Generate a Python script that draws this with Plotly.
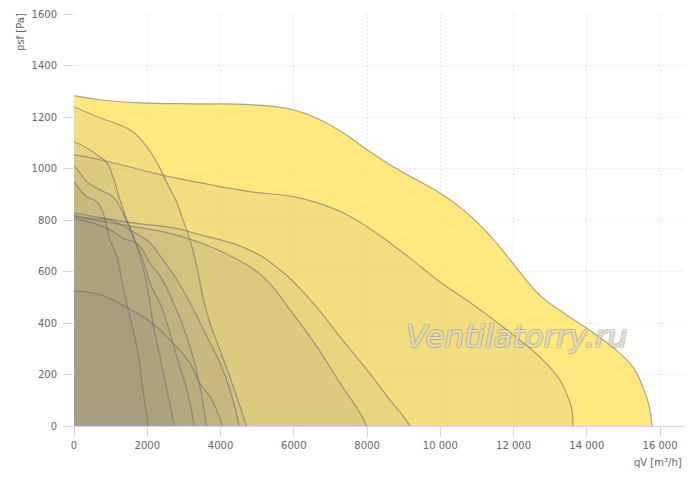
import plotly.graph_objects as go

# Fan curves: flow qV [m3/h] and static pressure psf [Pa]
q1 = [0, 710, 1802, 3440, 4805, 5979, 6716, 7344, 7999, 8627, 9364, 9992, 10538, 11084, 11630, 12176, 12722, 13350, 14087, 14715, 15261, 15534, 15698, 15780]
p1 = [1283, 1267, 1255, 1251, 1248, 1228, 1189, 1139, 1073, 1015, 955, 905, 850, 780, 694, 597, 507, 441, 371, 305, 228, 150, 80, 0]

q2 = [0, 710, 1611, 2348, 3440, 4805, 5980, 6634, 7344, 8000, 8627, 9173, 9992, 10756, 11357, 12176, 12722, 13268, 13486, 13595, 13623]
p2 = [1054, 1034, 1003, 976, 945, 910, 891, 867, 828, 774, 711, 652, 559, 485, 423, 333, 267, 178, 112, 62, 0]

q3 = [0, 1611, 2703, 3440, 4723, 5624, 6525, 7262, 8000, 8627, 8950, 9180]
p3 = [828, 789, 770, 743, 688, 607, 478, 346, 218, 101, 45, 0]

q4 = [0, 1611, 2539, 3440, 4259, 5160, 5897, 6634, 7262, 7808, 7990]
p4 = [813, 774, 751, 712, 661, 579, 451, 307, 167, 51, 0]

q5 = [0, 710, 1256, 1611, 1993, 2266, 2539, 2812, 2976, 3167, 3358, 3522, 3713, 3986, 4259, 4500, 4709]
p5 = [1240, 1197, 1169, 1142, 1084, 1022, 944, 866, 800, 722, 617, 500, 399, 294, 189, 90, 0]

q6 = [0, 355, 710, 901, 1065, 1256, 1447, 1611, 1747, 1884, 2020, 2157, 2348, 2539, 2736]
p6 = [1104, 1080, 1045, 1022, 967, 878, 800, 742, 683, 617, 528, 400, 267, 139, 0]

q7 = [0, 164, 355, 710, 1065, 1256, 1447, 1611, 1802, 1993, 2157, 2348, 2539, 2703, 2894, 3085, 3282]
p7 = [1010, 983, 948, 917, 890, 851, 793, 734, 676, 594, 528, 477, 399, 322, 228, 139, 0]

q8 = [0, 164, 355, 628, 792, 901, 983, 1174, 1338, 1529, 1720, 1884, 2027]
p8 = [948, 917, 890, 870, 828, 773, 722, 656, 540, 423, 306, 139, 0]

q9 = [0, 491, 983, 1529, 2075, 2430, 2812, 3167, 3440, 3713, 3986, 4259, 4509]
p9 = [818, 805, 800, 761, 711, 645, 567, 478, 401, 323, 245, 140, 0]

q10 = [0, 901, 1338, 1747, 2075, 2348, 2757, 2976, 3222, 3440, 3618]
p10 = [805, 768, 729, 706, 632, 582, 465, 387, 282, 154, 0]

q11 = [0, 710, 1474, 1938, 2266, 2812, 3167, 3440, 3767, 4054]
p11 = [524, 510, 458, 419, 384, 306, 243, 166, 101, 0]

curves = [(q1, p1), (q2, p2), (q3, p3), (q4, p4), (q5, p5), (q6, p6),
          (q7, p7), (q8, p8), (q9, p9), (q10, p10), (q11, p11)]

x_ticks = [0, 2000, 4000, 6000, 8000, 10000, 12000, 14000, 16000]
x_labels = ["0", "2000", "4000", "6000", "8000", "10 000", "12 000", "14 000", "16 000"]
y_ticks = [0, 200, 400, 600, 800, 1000, 1200, 1400, 1600]
y_labels = ["0", "200", "400", "600", "800", "1000", "1200", "1400", "1600"]

fig = go.Figure()
for i, (q, p) in enumerate(curves):
    fill = "rgba(255,226,84,0.75)" if i == 0 else "rgba(117,116,125,0.094)"
    fig.add_trace(go.Scatter(
        x=q, y=p, mode="lines", fill="tozeroy", fillcolor=fill,
        line=dict(color="rgba(105,105,105,0.58)", width=1.2, shape="spline", smoothing=1.3),
        hoverinfo="skip", showlegend=False,
    ))

font_fam = "DejaVu Sans"
fig.update_layout(
    width=700, height=477,
    margin=dict(l=74, r=15, t=14, b=51, autoexpand=False),
    paper_bgcolor="white", plot_bgcolor="white",
    font=dict(family=font_fam, size=10, color="#666666"),
    xaxis=dict(range=[0, 16680], tickvals=x_ticks, ticktext=x_labels, automargin=False,
               showgrid=True, gridcolor="#d2d2d2", griddash="1px,3px", gridwidth=1,
               zeroline=False, showline=True, linecolor="#ccd6eb", linewidth=1,
               ticks="outside", ticklen=10, tickcolor="#ccd6eb",
               tickfont=dict(size=10, color="#666666")),
    yaxis=dict(range=[0, 1600], tickvals=y_ticks, ticktext=y_labels, automargin=False,
               showgrid=True, gridcolor="#d2d2d2", griddash="1px,3px", gridwidth=1,
               zeroline=False, showline=False,
               ticks="outside", ticklen=10, tickcolor="#ccd6eb",
               ticklabelstandoff=4,
               tickfont=dict(size=10, color="#666666")),
    annotations=[
        dict(text="psf [Pa]", xref="paper", yref="paper", x=-0.088, y=0.957,
             textangle=-90, showarrow=False, xanchor="center", yanchor="middle",
             font=dict(size=10, color="#666666")),
        dict(text="qV [m³/h]", xref="paper", yref="paper", x=0.998, y=-0.088,
             showarrow=False, xanchor="right", yanchor="middle",
             font=dict(size=10, color="#666666")),
        dict(text="Ventilatorry.ru", xref="paper", yref="paper", x=0.725, y=0.218,
             showarrow=False, xanchor="center", yanchor="middle",
             font=dict(family=font_fam, size=31, style="italic",
                       color="rgba(255,255,240,0.6)",
                       shadow="1px 1px 0 rgba(130,130,120,0.55), -1px -1px 0 rgba(130,130,120,0.55), 1px -1px 0 rgba(130,130,120,0.55), -1px 1px 0 rgba(130,130,120,0.55)")),
    ],
)

fig.write_html("out.html", config={"displayModeBar": False},
               post_script="document.body.style.margin='0';")
